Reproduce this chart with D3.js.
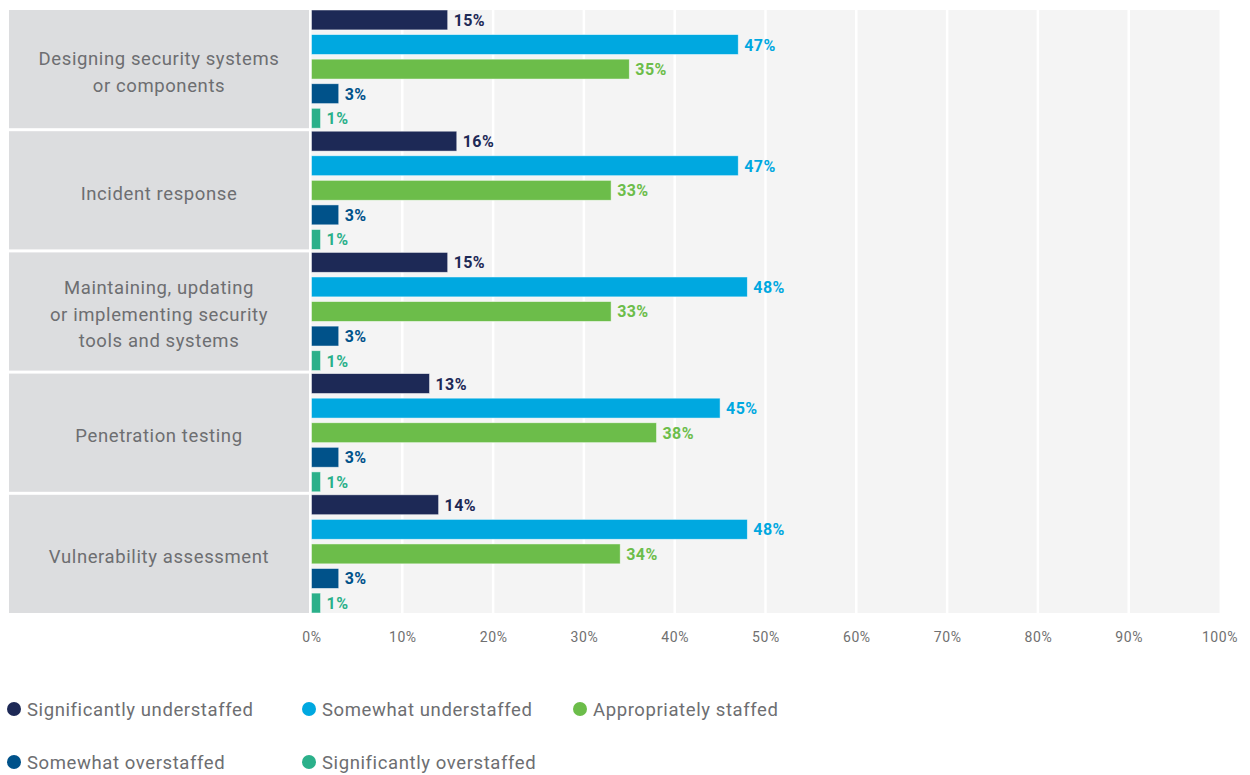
<!DOCTYPE html>
<html>
<head>
<meta charset="utf-8">
<script src="https://cdn.jsdelivr.net/npm/d3@7"></script>
<style>
  html, body { margin: 0; padding: 0; background: #ffffff; }
  svg { display: block; font-family: Roboto, "Noto Sans", sans-serif; }
</style>
</head>
<body>
<svg id="chart" width="1250" height="775"></svg>
<script>
// Staffing levels by security function (share of respondents, %)
const categories = [
  ["Designing security systems", "or components"],
  ["Incident response"],
  ["Maintaining, updating", "or implementing security", "tools and systems"],
  ["Penetration testing"],
  ["Vulnerability assessment"]
];
const seriesNames = [
  "Significantly understaffed",
  "Somewhat understaffed",
  "Appropriately staffed",
  "Somewhat overstaffed",
  "Significantly overstaffed"
];
const significantlyUnder = [15, 16, 15, 13, 14];
const somewhatUnder      = [47, 47, 48, 45, 48];
const appropriately      = [35, 33, 33, 38, 34];
const somewhatOver       = [3, 3, 3, 3, 3];
const significantlyOver  = [1, 1, 1, 1, 1];
const tickValues = [0, 10, 20, 30, 40, 50, 60, 70, 80, 90, 100];

const seriesValues = [significantlyUnder, somewhatUnder, appropriately, somewhatOver, significantlyOver];
const colors = ["#1d2956", "#00a8e0", "#6cbd4a", "#00528a", "#2bb08a"];

const svg = d3.select("#chart");

const plotTop = 10, plotBottom = 613;
const x = d3.scaleLinear().domain([0, 100]).range([311.5, 1219.5]);
const yGroup = d3.scaleBand()
  .domain(d3.range(categories.length))
  .range([plotTop, plotBottom + 3])
  .paddingInner(0)
  .paddingOuter(0);
const groupGap = 3;
const ySeries = d3.scaleBand()
  .domain(d3.range(seriesNames.length))
  .range([0, yGroup.bandwidth() - groupGap])
  .paddingInner(0.19);
const color = d3.scaleOrdinal().domain(d3.range(seriesNames.length)).range(colors);

// plot background
svg.append("rect")
  .attr("x", x(0)).attr("y", plotTop)
  .attr("width", x(100) - x(0)).attr("height", plotBottom - plotTop)
  .attr("fill", "#f4f4f4");

// vertical grid lines
svg.append("g")
  .selectAll("line")
  .data(tickValues.filter(d => d > 0 && d < 100))
  .join("line")
  .attr("x1", d => x(d)).attr("x2", d => x(d))
  .attr("y1", plotTop).attr("y2", plotBottom)
  .attr("stroke", "#ffffff").attr("stroke-width", 2.5);

// category panels on the left
const panels = svg.append("g").selectAll("g")
  .data(categories)
  .join("g")
  .attr("transform", (d, i) => `translate(0,${yGroup(i)})`);

panels.append("rect")
  .attr("x", 9).attr("y", 0)
  .attr("width", 300).attr("height", yGroup.bandwidth() - groupGap)
  .attr("fill", "#dcdddf");

const lineH = 26.5;
panels.append("text")
  .attr("text-anchor", "middle")
  .attr("fill", "#6d6e71")
  .attr("font-size", 18.5)
  .attr("letter-spacing", 0.6)
  .selectAll("tspan")
  .data(d => d.map((t, k) => ({ t, k, n: d.length })))
  .join("tspan")
  .attr("x", 159)
  .attr("y", d => (yGroup.bandwidth() - groupGap) / 2 + (d.k - (d.n - 1) / 2) * lineH + 9.5)
  .text(d => d.t);

// bars
const barGroups = svg.append("g").selectAll("g")
  .data(categories.map((c, i) => i))
  .join("g")
  .attr("transform", i => `translate(0,${yGroup(i)})`);

barGroups.selectAll("rect")
  .data(i => seriesValues.map((vals, s) => ({ s, v: vals[i] })))
  .join("rect")
  .attr("x", x(0))
  .attr("y", d => ySeries(d.s))
  .attr("width", d => x(d.v) - x(0))
  .attr("height", ySeries.bandwidth())
  .attr("fill", d => color(d.s))
  .attr("stroke", "#ffffff")
  .attr("stroke-opacity", 0.6)
  .attr("stroke-width", 0.8);

barGroups.selectAll("text")
  .data(i => seriesValues.map((vals, s) => ({ s, v: vals[i] })))
  .join("text")
  .attr("x", d => x(d.v) + 6)
  .attr("y", d => ySeries(d.s) + ySeries.bandwidth() / 2 + 6)
  .attr("fill", d => color(d.s))
  .attr("font-size", 16)
  .attr("font-weight", 700)
  .attr("letter-spacing", 0.4)
  .text(d => d.v + "%");

// x axis tick labels
const axis = d3.axisBottom(x)
  .tickValues(tickValues)
  .tickFormat(d => d + "%")
  .tickSize(0)
  .tickPadding(0);
const axisG = svg.append("g")
  .attr("transform", `translate(0,${plotBottom + 29})`)
  .call(axis);
axisG.select(".domain").remove();
axisG.selectAll("text")
  .attr("font-family", "Roboto, sans-serif")
  .attr("font-size", 14)
  .attr("letter-spacing", 0.6)
  .attr("fill", "#707070")
  .attr("dy", 0);

// legend
const legendPos = [
  { x: 14, y: 709 }, { x: 309, y: 709 }, { x: 580, y: 709 },
  { x: 14, y: 762 }, { x: 309, y: 762 }
];
const legend = svg.append("g").selectAll("g")
  .data(seriesNames)
  .join("g")
  .attr("transform", (d, i) => `translate(${legendPos[i].x},${legendPos[i].y})`);
legend.append("circle")
  .attr("r", 7)
  .attr("fill", (d, i) => color(i));
legend.append("text")
  .attr("x", 13)
  .attr("y", 6.5)
  .attr("font-size", 18.5)
  .attr("letter-spacing", 0.6)
  .attr("fill", "#6d6e71")
  .text(d => d);
</script>
</body>
</html>
